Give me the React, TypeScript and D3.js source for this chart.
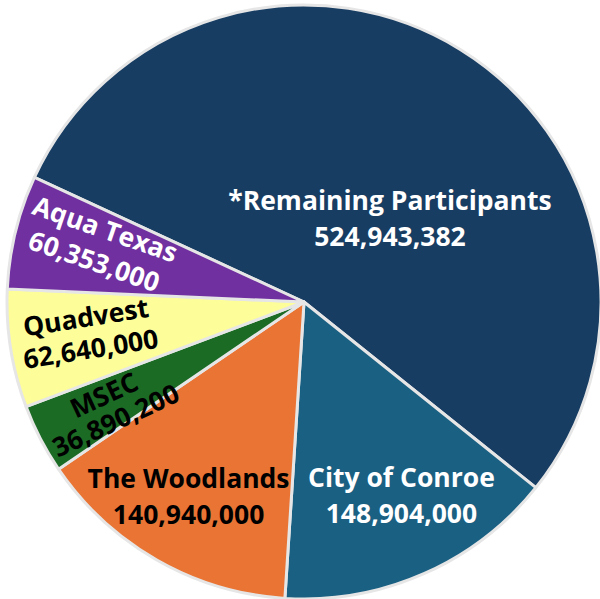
import * as d3 from 'd3'
import { useEffect, useRef } from 'react'

const names = [
  '*Remaining Participants',
  'City of Conroe',
  'The Woodlands',
  'MSEC',
  'Quadvest',
  'Aqua Texas',
]
const values = [524943382, 148904000, 140940000, 36890200, 62640000, 60353000]
const colors = ['#173d63', '#1a6083', '#e97434', '#1b6b25', '#fdfd9a', '#7030a0']
const textColors = ['#ffffff', '#ffffff', '#000000', '#000000', '#000000', '#ffffff']

// label placement: radius from centre, angle nudge (deg), text rotation (deg), line gap
const labelPlace = [
  { r: 120, nudge: 14, rot: 0, gap: 36 },
  { r: 216, nudge: -3, rot: 0, gap: 36 },
  { r: 226, nudge: 1, rot: 0, gap: 36 },
  { r: 221, nudge: -1, rot: -25, gap: 28 },
  { r: 218, nudge: 1, rot: -9, gap: 32 },
  { r: 212, nudge: 2, rot: 19, gap: 34 },
]

export default function App() {
  const svgRef = useRef<SVGSVGElement>(null)
  const width = 600
  const height = 599

  useEffect(() => {
    if (!svgRef.current) return
    const svg = d3.select(svgRef.current)
    svg.selectAll('*').remove()

    const cx = 304
    const cy = 302
    const radius = 297
    const start = (-65.2 * Math.PI) / 180

    const pie = d3
      .pie<number>()
      .sort(null)
      .value((d) => d)
      .startAngle(start)
      .endAngle(start + 2 * Math.PI)

    const arcs = pie(values)
    const arc = d3.arc<d3.PieArcDatum<number>>().innerRadius(0).outerRadius(radius)

    const g = svg.append('g').attr('transform', `translate(${cx},${cy})`)

    g.selectAll('path.slice')
      .data(arcs)
      .join('path')
      .attr('class', 'slice')
      .attr('d', arc)
      .attr('fill', (_, i) => colors[i])
      .attr('stroke', '#e6e6e6')
      .attr('stroke-width', 3)
      .attr('stroke-linejoin', 'round')

    const fmt = d3.format(',')

    arcs.forEach((a, i) => {
      const p = labelPlace[i]
      const mid = (a.startAngle + a.endAngle) / 2 + (p.nudge * Math.PI) / 180
      const x = Math.sin(mid) * p.r
      const y = -Math.cos(mid) * p.r
      const t = g
        .append('text')
        .attr('transform', `translate(${x},${y}) rotate(${p.rot})`)
        .attr('text-anchor', 'middle')
        .attr('font-family', '"Open Sans", sans-serif')
        .attr('font-weight', 700)
        .attr('font-size', 26.5)
        .attr('fill', textColors[i])
      t.append('tspan').attr('x', 0).attr('y', 10 - p.gap / 2).text(names[i])
      t.append('tspan').attr('x', 0).attr('y', 10 + p.gap / 2).text(fmt(values[i]))
    })
  }, [])

  return (
    <svg
      ref={svgRef}
      width={width}
      height={height}
      style={{ position: 'absolute', left: 0, top: 0, background: '#ffffff' }}
    />
  )
}
